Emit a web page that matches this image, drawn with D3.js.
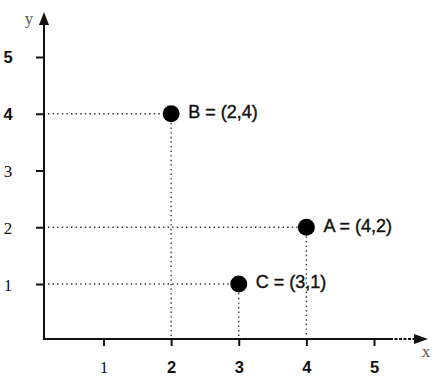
<!DOCTYPE html>
<html>
<head>
<meta charset="utf-8">
<script src="https://cdn.jsdelivr.net/npm/d3@7"></script>
<style>
  body { margin: 0; background: #fff; }
  svg { display: block; }
</style>
</head>
<body>
<div id="chart"></div>
<script>
// Points and tick labels
const names = ["A", "B", "C"];
const xValues = [4, 2, 3];
const yValues = [2, 4, 1];
const xTicks = [1, 2, 3, 4, 5];
const yTicks = [1, 2, 3, 4, 5];

const width = 437, height = 380;
const axisX = 44, axisY = 339;   // where the two axes cross

const svg = d3.select("#chart")
    .append("svg")
    .attr("width", width)
    .attr("height", height);

// Scales
const xScale = d3.scaleLinear().domain([1, 5]).range([103.5, 374]);
const yScale = d3.scaleLinear().domain([1, 5]).range([284, 57]);

const sans = "'Liberation Sans', Arial, sans-serif";
const serif = "'Liberation Serif', 'Times New Roman', serif";
// the scan mixes serif and sans digits
const ySerif = v => v <= 3;
const xSerif = v => v === 1;

// y axis ticks
const gy = svg.append("g")
    .attr("transform", `translate(${axisX},0)`)
    .call(d3.axisLeft(yScale).tickValues(yTicks).tickSize(8).tickFormat(d3.format("d")));
gy.select(".domain").remove();
gy.selectAll(".tick line").attr("stroke", "#111").attr("stroke-width", 2);
gy.selectAll(".tick text")
    .attr("x", 8 - axisX)
    .attr("dy", "0.36em")
    .attr("text-anchor", "middle")
    .attr("fill", "#111")
    .style("font-family", d => ySerif(d) ? serif : sans)
    .style("font-weight", d => ySerif(d) ? "normal" : "bold")
    .style("font-size", d => ySerif(d) ? "17px" : "16.5px");

// x axis ticks
const gx = svg.append("g")
    .attr("transform", `translate(0,${axisY})`)
    .call(d3.axisBottom(xScale).tickValues(xTicks).tickSize(7).tickFormat(d3.format("d")));
gx.select(".domain").remove();
gx.selectAll(".tick line").attr("stroke", "#111").attr("stroke-width", 2);
gx.selectAll(".tick text")
    .attr("y", 28)
    .attr("dy", "0.36em")
    .attr("fill", "#111")
    .style("font-family", d => xSerif(d) ? serif : sans)
    .style("font-weight", d => xSerif(d) ? "normal" : "bold")
    .style("font-size", d => xSerif(d) ? "17px" : "16.5px");

// Axis lines with arrows
svg.append("line")
    .attr("x1", axisX).attr("y1", axisY + 1)
    .attr("x2", axisX).attr("y2", 22)
    .attr("stroke", "#111").attr("stroke-width", 2);
svg.append("path")
    .attr("d", `M${axisX},12 L${axisX - 5},25 L${axisX + 5},25 Z`)
    .attr("fill", "#111");

svg.append("line")
    .attr("x1", axisX - 1).attr("y1", axisY)
    .attr("x2", 390).attr("y2", axisY)
    .attr("stroke", "#111").attr("stroke-width", 2);
svg.append("line")
    .attr("x1", 390).attr("y1", axisY)
    .attr("x2", 418).attr("y2", axisY)
    .attr("stroke", "#111").attr("stroke-width", 2)
    .attr("stroke-dasharray", "3,1.5");
svg.append("path")
    .attr("d", `M428,${axisY} L414,${axisY - 5} L414,${axisY + 5} Z`)
    .attr("fill", "#111");

// Axis names
svg.append("text")
    .attr("x", 29).attr("y", 19)
    .attr("text-anchor", "middle")
    .attr("dy", "0.3em")
    .style("font-family", serif)
    .style("font-size", "17px")
    .attr("fill", "#555")
    .text("y");
svg.append("text")
    .attr("x", 426).attr("y", 352)
    .attr("text-anchor", "middle")
    .attr("dy", "0.3em")
    .style("font-family", serif)
    .style("font-size", "17px")
    .attr("fill", "#555")
    .text("x");

const points = names.map((n, i) => ({ name: n, x: xValues[i], y: yValues[i] }));

// Dotted guide lines
svg.selectAll(".hguide")
    .data(points)
    .enter()
    .append("line")
    .attr("x1", axisX + 4)
    .attr("x2", d => xScale(d.x))
    .attr("y1", d => yScale(d.y))
    .attr("y2", d => yScale(d.y))
    .attr("stroke", "#333")
    .attr("stroke-width", 1.4)
    .attr("stroke-dasharray", "1.4,3.2");

svg.selectAll(".vguide")
    .data(points)
    .enter()
    .append("line")
    .attr("x1", d => xScale(d.x))
    .attr("x2", d => xScale(d.x))
    .attr("y1", d => yScale(d.y))
    .attr("y2", axisY - 2)
    .attr("stroke", "#333")
    .attr("stroke-width", 1.4)
    .attr("stroke-dasharray", "1.4,3.2");

// Points
svg.selectAll(".dot")
    .data(points)
    .enter()
    .append("circle")
    .attr("cx", d => xScale(d.x))
    .attr("cy", d => yScale(d.y))
    .attr("r", 8.5)
    .attr("fill", "#000");

// Point labels
svg.selectAll(".label")
    .data(points)
    .enter()
    .append("text")
    .attr("x", d => xScale(d.x) + 17)
    .attr("y", d => yScale(d.y) - 2)
    .attr("dy", "0.36em")
    .style("font-family", sans)
    .style("font-size", "18px")
    .attr("fill", "#111")
    .attr("stroke", "#111")
    .attr("stroke-width", 0.4)
    .text(d => `${d.name} = (${d.x},${d.y})`);
</script>
</body>
</html>
